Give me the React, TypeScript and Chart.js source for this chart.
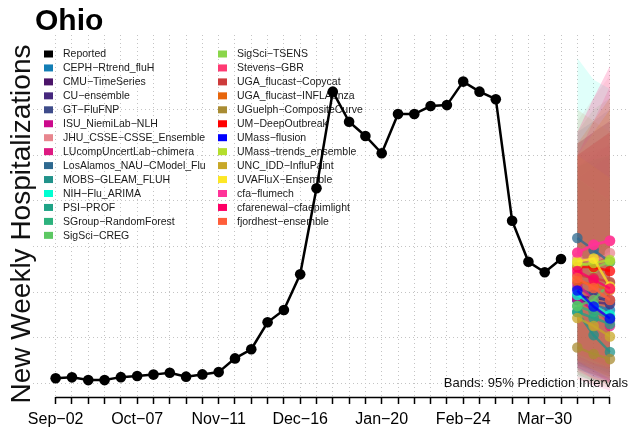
import React, { useEffect, useRef } from "react";
import { Chart, registerables } from "chart.js";

Chart.register(...registerables);

const FONT = "'Liberation Sans', Arial, Helvetica, sans-serif";

// ---- Data ----
const reportedWeeks = Array.from({ length: 32 }, (_, i) => i); // week index from Sep-02
const reported = [
  23, 27, 15, 15, 28, 33, 39, 47, 30, 40, 50, 110, 150, 268, 322, 478,
  855, 1278, 1146, 1084, 1008, 1180, 1180, 1215, 1219, 1322, 1278, 1245,
  713, 533, 487, 545,
];
const forecastWeeks = [32, 33, 34];
const axisWeeks = Array.from({ length: 35 }, (_, i) => i);
const tickLabelWeeks = [0, 5, 10, 15, 20, 25, 30];
const tickLabels = ["Sep\u221202", "Oct\u221207", "Nov\u221211", "Dec\u221216", "Jan\u221220", "Feb\u221224", "Mar\u221230"];
const gridValues = [0, 200, 400, 600, 800, 1000, 1200];

const modelNames = [
  "CEPH\u2212Rtrend_fluH",
  "CMU\u2212TimeSeries",
  "CU\u2212ensemble",
  "GT\u2212FluFNP",
  "ISU_NiemiLab\u2212NLH",
  "JHU_CSSE\u2212CSSE_Ensemble",
  "LUcompUncertLab\u2212chimera",
  "LosAlamos_NAU\u2212CModel_Flu",
  "MOBS\u2212GLEAM_FLUH",
  "NIH\u2212Flu_ARIMA",
  "PSI\u2212PROF",
  "SGroup\u2212RandomForest",
  "SigSci\u2212CREG",
  "SigSci\u2212TSENS",
  "Stevens\u2212GBR",
  "UGA_flucast\u2212Copycat",
  "UGA_flucast\u2212INFLAenza",
  "UGuelph\u2212CompositeCurve",
  "UM\u2212DeepOutbreak",
  "UMass\u2212flusion",
  "UMass\u2212trends_ensemble",
  "UNC_IDD\u2212InfluPaint",
  "UVAFluX\u2212Ensemble",
  "cfa\u2212flumech",
  "cfarenewal\u2212cfaepimlight",
  "fjordhest\u2212ensemble",
];
const modelColors = [
  "#137EB5", "#4B1469", "#46287E", "#3E4C8A", "#CC0A8C", "#E8868E",
  "#DE1A82", "#2E6990", "#21928A", "#00FFD2", "#20A386", "#2DB27D",
  "#5CC863", "#8AD64A", "#FF3A73", "#CD3B3B", "#E7650B", "#A98C33",
  "#FF0000", "#0000FF", "#B4DE2C", "#C8A828", "#FDE725", "#FF3399",
  "#FF0066", "#FF5E3A",
];
const medians = [
  [366, 344, 322], [383, 374, 366], [366, 357, 348], [418, 388, 357],
  [370, 322, 278], [550, 532, 571], [436, 366, 252], [637, 585, 532],
  [313, 212, 138], [388, 344, 300], [313, 287, 261], [339, 313, 287],
  [339, 366, 440], [532, 506, 532], [571, 606, 624], [475, 462, 444],
  [449, 431, 410], [158, 129, 107], [510, 510, 493], [407, 337, 285],
  [519, 528, 541], [287, 252, 206], [534, 547, 425], [574, 609, 626],
  [493, 455, 416], [462, 418, 366],
];
const lowers = [
  [60, 40, 20], [90, 70, 50], [80, 60, 40], [100, 60, 30], [70, 40, 10],
  [150, 100, 80], [100, 50, 0], [120, 80, 40], [40, 10, 0], [30, 10, 0],
  [80, 50, 30], [60, 40, 20], [80, 60, 50], [100, 80, 60], [50, 20, 0],
  [110, 80, 60], [90, 60, 30], [20, 0, -20], [130, 100, 70], [70, 30, 10],
  [120, 90, 70], [40, 10, 0], [100, 60, 20], [20, -10, -30], [60, 20, 0],
  [70, 40, 10],
];
const uppers = [
  [1000, 1050, 1100], [950, 1000, 1050], [900, 950, 1000], [1050, 1100, 1150],
  [1000, 1020, 1040], [1150, 1250, 1350], [1050, 1100, 1150], [1100, 1150, 1200],
  [900, 850, 800], [1425, 1330, 1290], [950, 980, 1000], [1000, 1050, 1100],
  [1100, 1200, 1250], [1050, 1150, 1250], [1100, 1250, 1390], [1000, 1050, 1100],
  [1050, 1100, 1200], [1200, 1150, 1100], [1000, 1050, 1100], [1050, 1100, 1150],
  [1000, 1100, 1200], [1000, 950, 900], [1050, 1100, 1150], [1100, 1250, 1390],
  [1000, 1150, 1300], [1050, 1150, 1250],
];

function rgba(hex: string, a: number) {
  const n = parseInt(hex.slice(1), 16);
  return `rgba(${(n >> 16) & 255},${(n >> 8) & 255},${n & 255},${a})`;
}

const decorPlugin = {
  id: "decor",
  beforeDatasetsDraw(chart: any) {
    const ctx = chart.ctx;
    ctx.save();
    ctx.font = `10.5px ${FONT}`;
    ctx.textBaseline = "middle";
    ctx.textAlign = "left";
    const entries = [{ name: "Reported", color: "#000000" }].concat(
      modelNames.map((n, i) => ({ name: n, color: modelColors[i] }))
    );
    const perCol = 14;
    entries.forEach((e, i) => {
      const col = Math.floor(i / perCol);
      const row = i % perCol;
      const bx = col === 0 ? 44 : 218;
      const y = 54 + row * 13.95;
      ctx.fillStyle = e.color;
      ctx.fillRect(bx, y - 3.5, 9, 7);
      ctx.fillStyle = "#1a1a1a";
      ctx.fillText(e.name, bx + 19, y + 0.5);
    });
    ctx.restore();
  },
  afterDatasetsDraw(chart: any) {
    const ctx = chart.ctx;
    ctx.save();
    ctx.font = `13px ${FONT}`;
    ctx.fillStyle = "#111";
    ctx.textAlign = "right";
    ctx.textBaseline = "alphabetic";
    ctx.fillText("Bands: 95% Prediction Intervals", 628, 387);
    ctx.restore();
  },
  afterDraw(chart: any) {
    const ctx = chart.ctx;
    const xs = chart.scales.x;
    const area = chart.chartArea;
    ctx.save();
    ctx.strokeStyle = "#000";
    ctx.lineWidth = 1.5;
    ctx.beginPath();
    ctx.moveTo(xs.getPixelForValue(axisWeeks[0]), area.bottom + 0.5);
    ctx.lineTo(xs.getPixelForValue(axisWeeks[axisWeeks.length - 1]), area.bottom + 0.5);
    ctx.stroke();
    ctx.fillStyle = "#000";
    ctx.font = `bold 30px ${FONT}`;
    ctx.textAlign = "left";
    ctx.textBaseline = "alphabetic";
    ctx.fillText("Ohio", 35, 30);
    ctx.translate(30, 224);
    ctx.rotate(-Math.PI / 2);
    ctx.font = `28px ${FONT}`;
    ctx.textAlign = "center";
    ctx.fillStyle = "#111";
    ctx.fillText("New Weekly Hospitalizations", 0, 0);
    ctx.restore();
  },
};

export default function App() {
  const ref = useRef<HTMLCanvasElement>(null);
  useEffect(() => {
    const canvas = ref.current;
    if (!canvas) return;
    Chart.defaults.font.family = FONT;
    const datasets: any[] = [];
    datasets.push({
      label: "Reported",
      data: reported.map((v, i) => ({ x: reportedWeeks[i], y: v })),
      borderColor: "#000",
      backgroundColor: "#000",
      pointBackgroundColor: "#000",
      pointBorderWidth: 0,
      pointRadius: 5.3,
      borderWidth: 2.5,
      fill: false,
      order: 1,
    });
    // later models are drawn on top (Chart.js draws higher indices first)
    const revIdx = modelNames.map((_, i) => modelNames.length - 1 - i);
    revIdx.forEach((m) => {
      const c = rgba(modelColors[m], 0.75);
      datasets.push({
        label: modelNames[m],
        data: forecastWeeks.map((w, h) => ({ x: w, y: medians[m][h] })),
        borderColor: c,
        backgroundColor: c,
        pointBackgroundColor: c,
        pointBorderWidth: 0,
        pointRadius: 5.3,
        borderWidth: 2.5,
        fill: false,
        order: 2,
      });
    });
    revIdx.forEach((m) => {
      datasets.push({
        label: modelNames[m] + " lower",
        data: forecastWeeks.map((w, h) => ({ x: w, y: lowers[m][h] })),
        borderColor: "transparent",
        pointRadius: 0,
        borderWidth: 0,
        fill: false,
        order: 3,
      });
      datasets.push({
        label: modelNames[m] + " upper",
        data: forecastWeeks.map((w, h) => ({ x: w, y: uppers[m][h] })),
        borderColor: "transparent",
        backgroundColor: rgba(modelColors[m], 0.12),
        pointRadius: 0,
        borderWidth: 0,
        fill: "-1",
        order: 3,
      });
    });

    const chart = new Chart(canvas, {
      type: "line",
      data: { datasets },
      plugins: [decorPlugin],
      options: {
        responsive: false,
        animation: false,
        layout: { autoPadding: false, padding: { top: 35, left: 0, right: 0, bottom: 0 } },
        plugins: {
          legend: { display: false },
          tooltip: { enabled: false },
          title: { display: false },
        },
        scales: {
          x: {
            type: "linear",
            min: -1.39,
            max: 35.17,
            afterBuildTicks: (s: any) => {
              s.ticks = axisWeeks.map((v) => ({ value: v }));
            },
            afterFit: (s: any) => {
              s.height = 35;
              s.paddingLeft = 0;
              s.paddingRight = 0;
            },
            ticks: {
              autoSkip: false,
              maxRotation: 0,
              padding: 6,
              color: "#000",
              font: { size: 16, family: FONT },
              callback: (v: any) => {
                const k = tickLabelWeeks.indexOf(Number(v));
                return k >= 0 ? tickLabels[k] : "";
              },
            },
            grid: {
              color: "#c4c4c4",
              lineWidth: 1,
              drawTicks: true,
              tickLength: 7,
              tickColor: "#000",
              tickWidth: 1.5,
              tickBorderDash: [],
            },
            border: { display: false, dash: [1, 3] },
          },
          y: {
            type: "linear",
            min: -59,
            max: 1526,
            afterBuildTicks: (s: any) => {
              s.ticks = gridValues.map((v) => ({ value: v }));
            },
            afterFit: (s: any) => {
              s.width = 33;
            },
            ticks: { display: false },
            grid: { color: "#c4c4c4", lineWidth: 1, drawTicks: false },
            border: { display: false, dash: [1, 3] },
          },
        },
      },
    });
    return () => chart.destroy();
  }, []);

  return (
    <div style={{ position: "absolute", left: 0, top: 0, width: 629, height: 432, background: "#fff" }}>
      <canvas ref={ref} width={629} height={432} style={{ width: 629, height: 432, display: "block" }} />
    </div>
  );
}
